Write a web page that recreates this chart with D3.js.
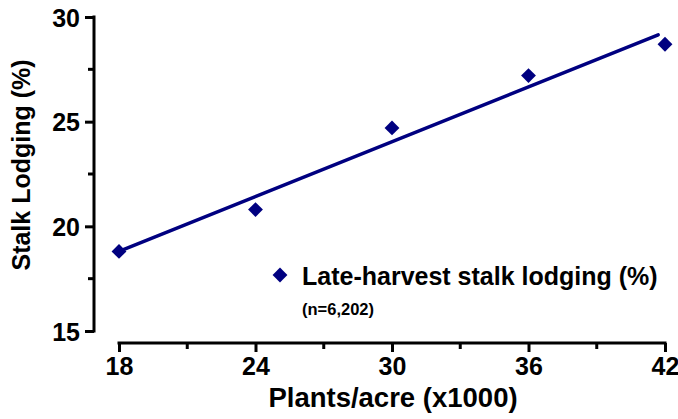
<!DOCTYPE html>
<html><head><meta charset="utf-8">
<script src="https://cdn.jsdelivr.net/npm/d3@7"></script>
<style>
html,body{margin:0;padding:0;background:#fff;}
svg{display:block;}
svg text{font-family:"Liberation Sans",Arial,sans-serif;font-weight:bold;fill:#000;}
</style></head>
<body>
<svg id="chart" width="678" height="419"></svg>
<script>
const plants = [18, 24, 30, 36, 42];
const lodging = [18.8, 20.8, 24.7, 27.2, 28.7];
const xTicks = [18, 24, 30, 36, 42];
const xMinorTicks = [21, 27, 33, 39];
const yTicks = [15, 20, 25, 30];
const yMinorTicks = [17.5, 22.5, 27.5];
const fitRange = [18, 41.7];
const seriesName = "Late-harvest stalk lodging (%)";
const sampleNote = "(n=6,202)";

const svg = d3.select("#chart");
const x = d3.scaleLinear().domain([18, 42]).range([119, 665]);
const y = d3.scaleLinear().domain([15, 30]).range([331, 17]);
const navy = "#000080";

// regression
const mx = d3.mean(plants), my = d3.mean(lodging);
const slope = d3.sum(plants, (d, i) => (d - mx) * (lodging[i] - my)) / d3.sum(plants, d => (d - mx) ** 2);
const icpt = my - slope * mx;

// Y axis
const yAxis = svg.append("g").attr("transform", "translate(94,0)")
  .call(d3.axisLeft(y).tickValues(yTicks).tickSize(9).tickPadding(5).tickFormat(d3.format("d")));
yAxis.select(".domain").attr("d", `M0,${y(30) - 1.5}V${y(15) + 1.5}`).attr("stroke-width", 3);
yAxis.selectAll(".tick line").attr("stroke-width", 3);
yAxis.selectAll(".tick text").attr("font-size", 25).attr("dy", "0.36em");
yAxis.append("g").selectAll("line").data(yMinorTicks).join("line")
  .attr("x1", -6).attr("x2", 0).attr("y1", d => y(d)).attr("y2", d => y(d))
  .attr("stroke", "#000").attr("stroke-width", 3);

// X axis
const xAxis = svg.append("g").attr("transform", "translate(0,343)")
  .call(d3.axisBottom(x).tickValues(xTicks).tickSize(9).tickPadding(5).tickFormat(d3.format("d")));
xAxis.select(".domain").attr("d", `M${x(18) - 1.5},0H${x(42) + 1.5}`).attr("stroke-width", 3);
xAxis.selectAll(".tick line").attr("stroke-width", 3);
xAxis.selectAll(".tick text").attr("font-size", 25);
xAxis.append("g").selectAll("line").data(xMinorTicks).join("line")
  .attr("x1", d => x(d)).attr("x2", d => x(d)).attr("y1", 0).attr("y2", 6)
  .attr("stroke", "#000").attr("stroke-width", 3);

// Axis titles
svg.append("text").attr("x", 393).attr("y", 407).attr("text-anchor", "middle")
  .attr("font-size", 27.5).text("Plants/acre (x1000)");
svg.append("text").attr("transform", "translate(30,165) rotate(-90)").attr("text-anchor", "middle")
  .attr("font-size", 25).text("Stalk Lodging (%)");

// Fit line
svg.append("line")
  .attr("x1", x(fitRange[0])).attr("y1", y(icpt + slope * fitRange[0]))
  .attr("x2", x(fitRange[1])).attr("y2", y(icpt + slope * fitRange[1]))
  .attr("stroke", navy).attr("stroke-width", 3.5).attr("stroke-linecap", "round");

// Points
const diamond = d3.symbol().type(d3.symbolSquare).size(110);
svg.append("g").selectAll("path").data(plants).join("path")
  .attr("d", diamond)
  .attr("transform", (d, i) => `translate(${x(d)},${y(lodging[i])}) rotate(45)`)
  .attr("fill", navy);

// Legend
svg.append("path").attr("d", diamond).attr("transform", "translate(280,275) rotate(45)").attr("fill", navy);
svg.append("text").attr("x", 302).attr("y", 285).attr("font-size", 25).text(seriesName);
svg.append("text").attr("x", 302).attr("y", 315).attr("font-size", 16.5).text(sampleNote);
</script>
</body></html>
